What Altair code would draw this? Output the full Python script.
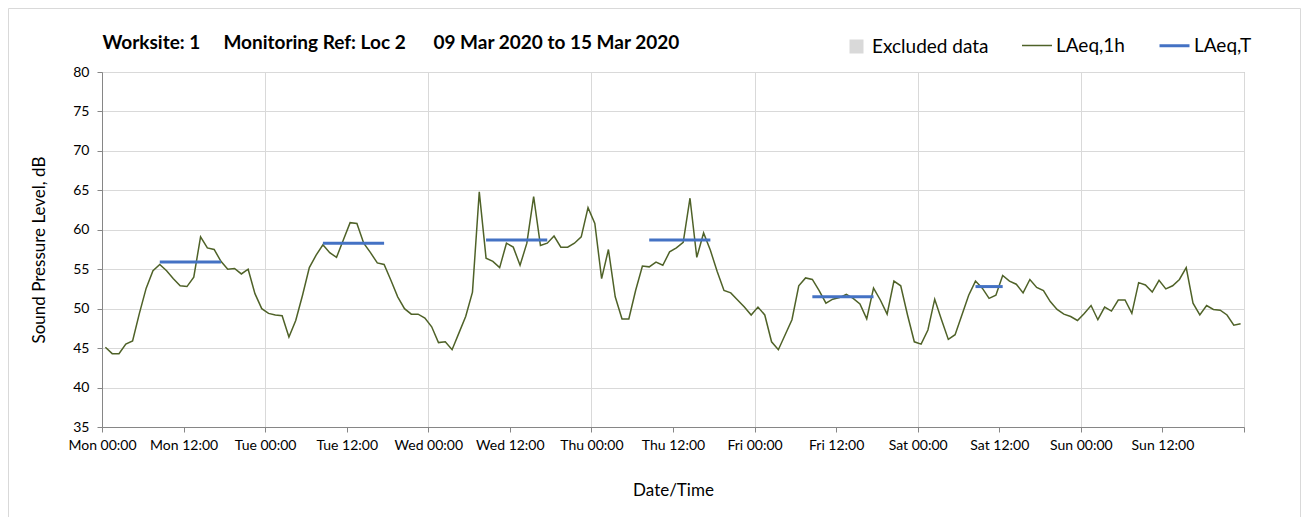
import altair as alt
import pandas as pd

# ---------------- data ----------------
day_names = ["Mon", "Tue", "Wed", "Thu", "Fri", "Sat", "Sun"]

# hourly LAeq,1h values, one list per day (24 values each)
mon = [45.1, 44.3, 44.3, 45.5, 45.9, 49.4, 52.6, 54.8, 55.6, 54.8, 53.8, 52.9,
       52.8, 54.0, 59.1, 57.7, 57.5, 56.0, 55.0, 55.1, 54.4, 55.0, 51.9, 50.0]
tue = [49.4, 49.2, 49.1, 46.4, 48.5, 51.7, 55.2, 56.8, 58.1, 57.1, 56.5, 58.7,
       60.9, 60.8, 58.3, 57.1, 55.8, 55.6, 53.6, 51.5, 50.0, 49.3, 49.3, 48.8]
wed = [47.7, 45.7, 45.8, 44.8, 46.9, 49.0, 52.1, 64.8, 56.4, 56.0, 55.2, 58.3,
       57.8, 55.5, 58.3, 64.2, 58.0, 58.3, 59.2, 57.8, 57.8, 58.3, 59.1, 62.8]
thu = [60.8, 53.8, 57.5, 51.5, 48.7, 48.7, 52.3, 55.4, 55.3, 55.9, 55.5, 57.2,
       57.7, 58.4, 64.0, 56.5, 59.6, 57.4, 54.7, 52.3, 52.0, 51.1, 50.2, 49.2]
fri = [50.2, 49.2, 45.8, 44.8, 46.7, 48.6, 52.9, 53.9, 53.7, 52.3, 50.7, 51.2,
       51.4, 51.8, 51.3, 50.6, 48.7, 52.6, 51.1, 49.3, 53.5, 52.9, 49.2, 45.8]
sat = [45.5, 47.3, 51.2, 48.6, 46.1, 46.7, 49.2, 51.7, 53.5, 52.6, 51.3, 51.7,
       54.2, 53.5, 53.1, 52.0, 53.7, 52.7, 52.3, 50.9, 49.9, 49.3, 49.0, 48.5]
sun = [49.4, 50.4, 48.6, 50.2, 49.7, 51.1, 51.1, 49.4, 53.3, 53.0, 52.1, 53.6,
       52.5, 52.9, 53.7, 55.2, 50.7, 49.2, 50.4, 49.9, 49.8, 49.2, 47.9, 48.1]

# LAeq,T working-period levels (start hour index, end hour index, level)
lt_start = [8, 32, 56, 80, 104, 128]
lt_end = [17, 41, 65, 89, 113, 132]
lt_value = [55.9, 58.3, 58.7, 58.7, 51.5, 52.8]

# excluded periods (none in this week)
excluded_start = []
excluded_end = []

series_names = ["LAeq,1h", "LAeq,T"]
series_colors = ["#4F6228", "#4472C4"]
series_widths = [1.5, 3]
excluded_label = ["Excluded data"]
excluded_color = ["#D9D9D9"]

y_ticks = [35, 40, 45, 50, 55, 60, 65, 70, 75, 80]
x_ticks = list(range(0, 169, 12))

title_text = ("Worksite: 1\u00a0\u00a0\u00a0\u00a0 Monitoring Ref: Loc 2"
              "\u00a0\u00a0\u00a0\u00a0\u00a0 09 Mar 2020 to 15 Mar 2020")

# ---------------- tables ----------------
laeq_1h = mon + tue + wed + thu + fri + sat + sun
line_df = pd.DataFrame({
    "hour": [i + 0.5 for i in range(len(laeq_1h))],
    "level": laeq_1h,
    "series": "LAeq,1h",
})
seg_df = pd.DataFrame({
    "start": [s + 0.5 for s in lt_start],
    "end": [e + 0.5 for e in lt_end],
    "level": lt_value,
    "series": "LAeq,T",
})
excl_values = [{"start": s, "end": e, "label": excluded_label[0]}
               for s, e in zip(excluded_start, excluded_end)]

W, H = 1142, 355
FONT = "Lato"

day_arr = "[" + ",".join("'%s'" % d for d in day_names) + "]"
label_expr = ("datum.value >= 168 ? '' : " + day_arr +
              "[floor(datum.value / 24)] + (datum.value % 24 == 0 ? ' 00:00' : ' 12:00')")

x_scale = alt.Scale(domain=[0, 168], nice=False, zero=False)
y_scale = alt.Scale(domain=[35, 80], nice=False, zero=False)

x_axis = alt.Axis(
    values=x_ticks, labelExpr=label_expr, title="Date/Time",
    labelFontSize=14, labelPadding=6, labelColor="#000000", labelOverlap=False,
    labelFlush=False, tickSize=5, tickColor="#868686", domainColor="#868686",
    grid=True, gridColor="#D9D9D9",
    gridOpacity={"condition": {"test": "datum.value % 24 === 0", "value": 1}, "value": 0},
    titleFontSize=17, titleFontWeight="normal", titleColor="#000000", titlePadding=30,
)
y_axis = alt.Axis(
    values=y_ticks, title="Sound Pressure Level, dB", tickCount=10,
    labelFontSize=14, labelPadding=8, labelColor="#000000", labelOverlap=False,
    tickSize=5, tickColor="#868686", domainColor="#868686",
    grid=True, gridColor="#D9D9D9",
    titleFontSize=17, titleFontWeight="normal", titleColor="#000000", titlePadding=24,
)

stroke_legend = alt.Legend(
    title=None, orient="none", legendX=919, legendY=-43, direction="horizontal",
    symbolType="stroke", symbolSize=900, labelFontSize=19, labelOffset=3,
    columnPadding=28, labelColor="#000000", labelFont=FONT,
)

border = alt.Chart(pd.DataFrame({"k": [0]})).mark_rect(
    fillOpacity=0, stroke="#D9D9D9", strokeWidth=1
).encode(
    x=alt.value(-93.5), x2=alt.value(W + 56.5), y=alt.value(-63.5), y2=alt.value(H + 120)
)

excluded = alt.Chart(alt.Data(values=excl_values)).mark_rect().encode(
    x=alt.X("start:Q", scale=x_scale, axis=x_axis),
    x2="end:Q",
    y=alt.datum(80, scale=y_scale, axis=y_axis),
    y2=alt.datum(35),
    fill=alt.Fill("label:N", scale=alt.Scale(domain=excluded_label, range=excluded_color),
                  legend=alt.Legend(title=None, orient="none", legendX=745, legendY=-35,
                                    symbolType="square", symbolSize=196, symbolStrokeWidth=0,
                                    labelFontSize=19, labelOffset=6, labelColor="#000000",
                                    labelFont=FONT)),
)

line = alt.Chart(line_df).mark_line().encode(
    x=alt.X("hour:Q", scale=x_scale, axis=x_axis),
    y=alt.Y("level:Q", scale=y_scale, axis=y_axis),
    stroke=alt.Stroke("series:N", scale=alt.Scale(domain=series_names, range=series_colors),
                      legend=stroke_legend),
    strokeWidth=alt.StrokeWidth("series:N",
                                scale=alt.Scale(domain=series_names, range=series_widths),
                                legend=stroke_legend),
)

segments = alt.Chart(seg_df).mark_rule(strokeCap="butt").encode(
    x=alt.X("start:Q", scale=x_scale, axis=x_axis),
    x2="end:Q",
    y=alt.Y("level:Q", scale=y_scale, axis=y_axis),
    stroke=alt.Stroke("series:N", scale=alt.Scale(domain=series_names, range=series_colors),
                      legend=stroke_legend),
    strokeWidth=alt.StrokeWidth("series:N",
                                scale=alt.Scale(domain=series_names, range=series_widths),
                                legend=stroke_legend),
)

chart = alt.layer(border, excluded, line, segments).properties(
    width=W, height=H,
    title=alt.TitleParams(text=title_text, anchor="start", fontSize=19, fontWeight="bold",
                          font=FONT, color="#000000", baseline="alphabetic",
                          offset=-60, dx=94.5),
    autosize=alt.AutoSizeParams(type="none"),
    padding={"left": 94, "top": 64, "right": 57, "bottom": 90},
).configure(font=FONT).configure_view(stroke="#A6A6A6", strokeWidth=1)

chart.save("out.html", embed_options={"renderer": "svg", "actions": False})
